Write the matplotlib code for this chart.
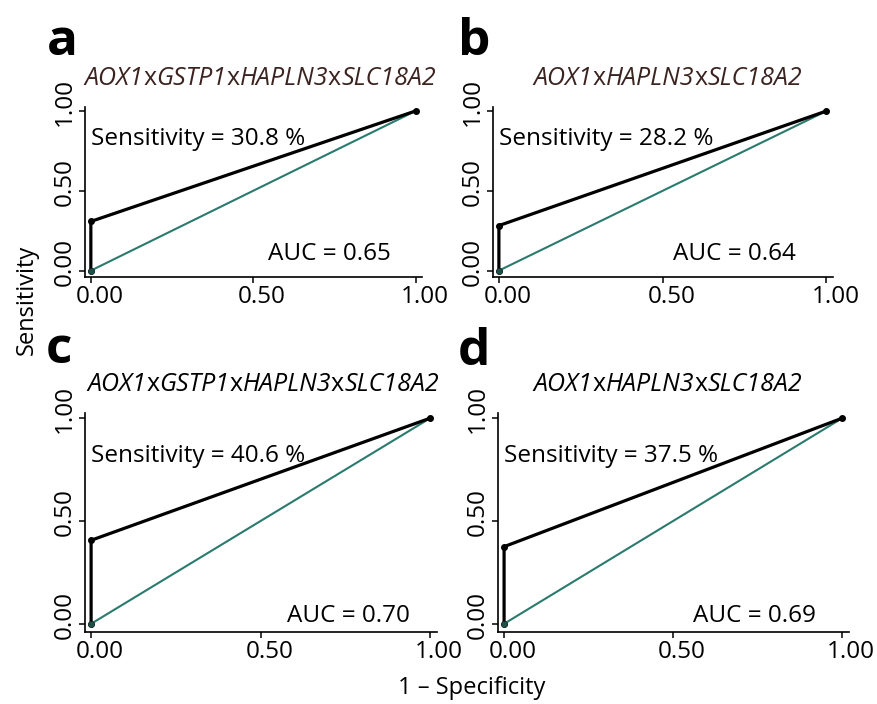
import matplotlib
matplotlib.use('Agg')
import matplotlib.pyplot as plt
from matplotlib.offsetbox import TextArea, HPacker, AnchoredOffsetbox
from matplotlib.transforms import ScaledTranslation

plt.rcParams['font.family'] = ['Open Sans', 'DejaVu Sans']

# ROC data: (1 - specificity, sensitivity) for each panel
panel_letters = ['a', 'b', 'c', 'd']
genes = [['AOX1', 'GSTP1', 'HAPLN3', 'SLC18A2'],
         ['AOX1', 'HAPLN3', 'SLC18A2'],
         ['AOX1', 'GSTP1', 'HAPLN3', 'SLC18A2'],
         ['AOX1', 'HAPLN3', 'SLC18A2']]
fpr = [0.0, 0.0, 1.0]
tpr_a = [0.0, 0.308, 1.0]
tpr_b = [0.0, 0.282, 1.0]
tpr_c = [0.0, 0.406, 1.0]
tpr_d = [0.0, 0.375, 1.0]
tprs = [tpr_a, tpr_b, tpr_c, tpr_d]
sens_pct = [30.8, 28.2, 40.6, 37.5]
auc = [0.65, 0.64, 0.70, 0.69]
ticks = [0.0, 0.5, 1.0]
tick_labels = ['0.00', '0.50', '1.00']

W, H = 877, 704
fig = plt.figure(figsize=(W / 100, H / 100), dpi=100)

# panel boxes in pixels: left, top, right, bottom
boxes = [(85, 107, 422, 277), (493, 107, 833, 277),
         (85, 413, 437, 632), (498, 413, 849, 632)]
auc_pos = [(0.735, 0.066), (0.72, 0.066), (0.76, 0.01), (0.74, 0.01)]
title_cols = ['#3b2420', '#3b2420', 'black', 'black']
title_pos = [(260, 91), (668, 91), (263, 397), (668, 397)]
letter_pos = [(47, 55), (458, 55), (46, 363), (458, 365)]

for i in range(4):
    l, t, r, b = boxes[i]
    ax = fig.add_axes([l / W, 1 - b / H, (r - l) / W, (b - t) / H])
    ax.plot([0, 1], [0, 1], color='#2a7a6e', lw=1.5, zorder=2)
    ax.plot(fpr, tprs[i], color='black', lw=2.3, zorder=3)
    ax.scatter(fpr, tprs[i], s=16, color='black', zorder=4)
    ax.scatter([0], [0], s=12, color='#1f4f48', zorder=5)
    ax.set_xlim(-0.018, 1.02)
    ax.set_ylim(-0.04, 1.025)
    for s in ['top', 'right']:
        ax.spines[s].set_visible(False)
    for s in ['left', 'bottom']:
        ax.spines[s].set_linewidth(1.2)
    ax.set_xticks(ticks)
    ax.set_xticklabels(tick_labels)
    ax.set_yticks(ticks)
    ax.set_yticklabels(tick_labels, rotation=90, va='center')
    ax.tick_params(length=4, width=1.1, labelsize=17.5, pad=2, colors='black')
    # labels sit a little off their ticks in the original
    for lab in ax.get_xticklabels():
        lab.set_transform(lab.get_transform() + ScaledTranslation(0.09, 0, fig.dpi_scale_trans))
    for lab in ax.get_yticklabels():
        lab.set_transform(lab.get_transform() + ScaledTranslation(0, 0.09, fig.dpi_scale_trans))
    ax.text(0.0, 0.787, 'Sensitivity = %.1f %%' % sens_pct[i], fontsize=17.5,
            ha='left', va='baseline')
    ax.text(auc_pos[i][0], auc_pos[i][1], 'AUC = %.2f' % auc[i], fontsize=17.5,
            ha='center', va='baseline')

    # title: gene names in italics joined by upright "x"
    parts = []
    for j, g in enumerate(genes[i]):
        if j > 0:
            parts.append(TextArea('x', textprops=dict(fontsize=18, color=title_cols[i])))
        parts.append(TextArea(g, textprops=dict(fontsize=18, style='italic',
                                                color=title_cols[i])))
    pack = HPacker(children=parts, pad=0, sep=0, align='baseline')
    tx, ty = title_pos[i]
    box = AnchoredOffsetbox(loc='lower center', child=pack, pad=0, borderpad=0,
                            frameon=False, bbox_to_anchor=(tx / W, 1 - ty / H),
                            bbox_transform=fig.transFigure)
    fig.add_artist(box)

    fig.text(letter_pos[i][0] / W, 1 - letter_pos[i][1] / H, panel_letters[i],
             fontsize=37, fontweight='bold', ha='left', va='baseline')

fig.text(27 / W, 1 - 300 / H, 'Sensitivity', rotation=90, fontsize=17,
         ha='center', va='center')
fig.text(472 / W, 1 - 688 / H, '1 \u2013 Specificity', fontsize=17,
         ha='center', va='center')

fig.savefig('out.png', dpi=100)
